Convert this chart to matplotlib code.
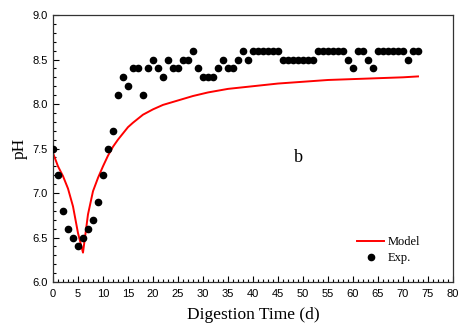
import matplotlib
matplotlib.use("Agg")
import matplotlib.pyplot as plt
from matplotlib.ticker import MultipleLocator

# Experimental data (day, pH)
exp_days = list(range(0, 74))
exp_ph = [7.5, 7.2, 6.8, 6.6, 6.5, 6.4, 6.5, 6.6, 6.7, 6.9,
          7.2, 7.5, 7.7, 8.1, 8.3, 8.2, 8.4, 8.4, 8.1, 8.4,
          8.5, 8.4, 8.3, 8.5, 8.4, 8.4, 8.5, 8.5, 8.6, 8.4,
          8.3, 8.3, 8.3, 8.4, 8.5, 8.4, 8.4, 8.5, 8.6, 8.5,
          8.6, 8.6, 8.6, 8.6, 8.6, 8.6, 8.5, 8.5, 8.5, 8.5,
          8.5, 8.5, 8.5, 8.6, 8.6, 8.6, 8.6, 8.6, 8.6, 8.5,
          8.4, 8.6, 8.6, 8.5, 8.4, 8.6, 8.6, 8.6, 8.6, 8.6,
          8.6, 8.5, 8.6, 8.6]

# Model curve (day, pH)
model_days = [0, 1, 2, 3, 4, 5, 6, 7, 8, 9, 10, 11, 12, 13, 14, 15, 16,
              18, 20, 22, 25, 28, 31, 35, 40, 45, 50, 55, 60, 65, 70, 73]
model_ph = [7.45, 7.30, 7.19, 7.05, 6.85, 6.55, 6.33, 6.76, 7.02, 7.17,
            7.30, 7.42, 7.52, 7.60, 7.67, 7.74, 7.79, 7.88, 7.94, 7.99,
            8.04, 8.09, 8.13, 8.17, 8.20, 8.23, 8.25, 8.27, 8.28, 8.29,
            8.30, 8.31]

fig = plt.figure(figsize=(4.58, 3.27), dpi=100)
ax = fig.add_axes([0.1157, 0.1376, 0.8734, 0.8165])

ax.plot(model_days, model_ph, color="#ff0000", lw=1.4, label="Model", zorder=2)
ax.plot(exp_days, exp_ph, "o", color="black", ms=4.5, label="Exp.", zorder=3)

ax.set_xlim(0, 80)
ax.set_ylim(6.0, 9.0)
ax.xaxis.set_major_locator(MultipleLocator(5))
ax.xaxis.set_minor_locator(MultipleLocator(1))
ax.yaxis.set_major_locator(MultipleLocator(0.5))
ax.yaxis.set_minor_locator(MultipleLocator(0.1))
ax.yaxis.set_major_formatter(matplotlib.ticker.FormatStrFormatter("%.1f"))
ax.tick_params(which="both", direction="in", top=False, right=False,
               labelsize=8, width=0.8)
ax.tick_params(axis="x", pad=5)
ax.tick_params(axis="y", pad=4)
ax.tick_params(which="major", length=4)
ax.tick_params(which="minor", length=2)
for lab in ax.get_xticklabels() + ax.get_yticklabels():
    lab.set_fontfamily("Liberation Sans")
for sp in ax.spines.values():
    sp.set_linewidth(0.9)
    sp.set_color("#333333")

ax.set_xlabel("Digestion Time (d)", family="Liberation Serif", fontsize=12.5, labelpad=6)
ax.set_ylabel("pH", family="Liberation Serif", fontsize=12.5, labelpad=3)

ax.text(49, 7.4, "b", family="Liberation Serif", fontsize=13, ha="center", va="center")

leg = ax.legend(loc="lower right", bbox_to_anchor=(0.947, 0.025), frameon=False,
                prop={"family": "Liberation Serif", "size": 9},
                handlelength=2.2, handletextpad=0.3, labelspacing=0.3)

fig.savefig("out.png", dpi=100)
